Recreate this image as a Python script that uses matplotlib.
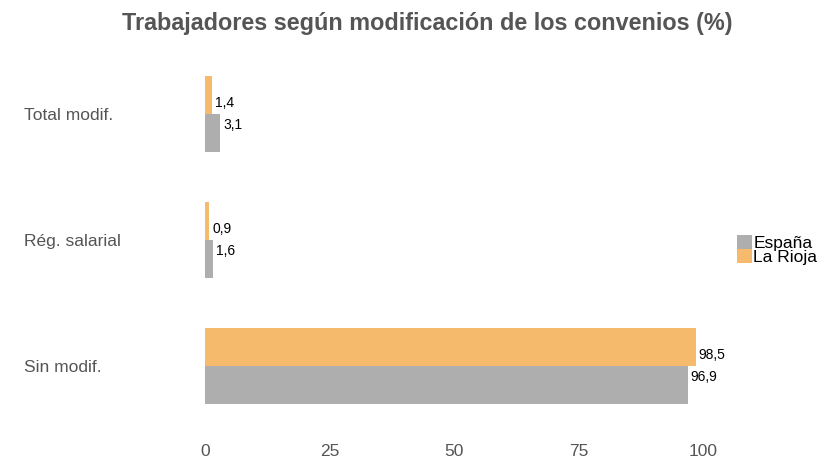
import matplotlib
matplotlib.use("Agg")
import matplotlib.pyplot as plt
import numpy as np

plt.rcParams['font.family'] = ['Liberation Sans', 'DejaVu Sans']

# data
categories = ["Sin modif.", "Rég. salarial", "Total modif."]
espana = [96.9, 1.6, 3.1]
rioja = [98.5, 0.9, 1.4]
xticks = [0, 25, 50, 75, 100]

col_esp = "#AEAEAE"
col_rio = "#F6BA6D"
txt_col = "#555555"

fig = plt.figure(figsize=(8.34, 4.61), dpi=100)
ax = fig.add_axes([205 / 834, 1 - 429 / 461, (703 - 205) / 834, (429 - 51) / 461])

y = np.arange(len(categories))
h = 0.3
ax.barh(y - h / 2, espana, height=h, color=col_esp, label="España")
ax.barh(y + h / 2, rioja, height=h, color=col_rio, label="La Rioja")

fmt = lambda v: f"{v:.1f}".replace(".", ",")
for yi, v in zip(y, espana):
    ax.text(v + 0.6, yi - 0.087, fmt(v), ha="left", va="center", fontsize=10, color="black")
for yi, v in zip(y, rioja):
    ax.text(v + 0.6, yi + 0.087, fmt(v), ha="left", va="center", fontsize=10, color="black")

ax.set_xlim(0, 100)
ax.set_ylim(-0.5, 2.5)
ax.set_xticks(xticks)
ax.set_xticklabels([str(t) for t in xticks], fontsize=12.5, color=txt_col)
ax.set_yticks(y)
ax.set_yticklabels(categories, fontsize=12.5, color=txt_col, ha="left")
ax.tick_params(axis="y", length=0, pad=130)
ax.tick_params(axis="x", length=0, pad=11)
for s in ax.spines.values():
    s.set_visible(False)

fig.text(0.512, 0.95, "Trabajadores según modificación de los convenios (%)",
         ha="center", va="center", fontsize=16.8, fontweight="bold", color=txt_col)

leg = ax.legend(loc="center left", bbox_to_anchor=(1.068, 0.473), frameon=False,
                fontsize=12.5, handlelength=0.85, handleheight=0.85, handletextpad=0.1,
                labelspacing=-0.1, borderaxespad=0, borderpad=0)

fig.savefig("out.png", dpi=100)
